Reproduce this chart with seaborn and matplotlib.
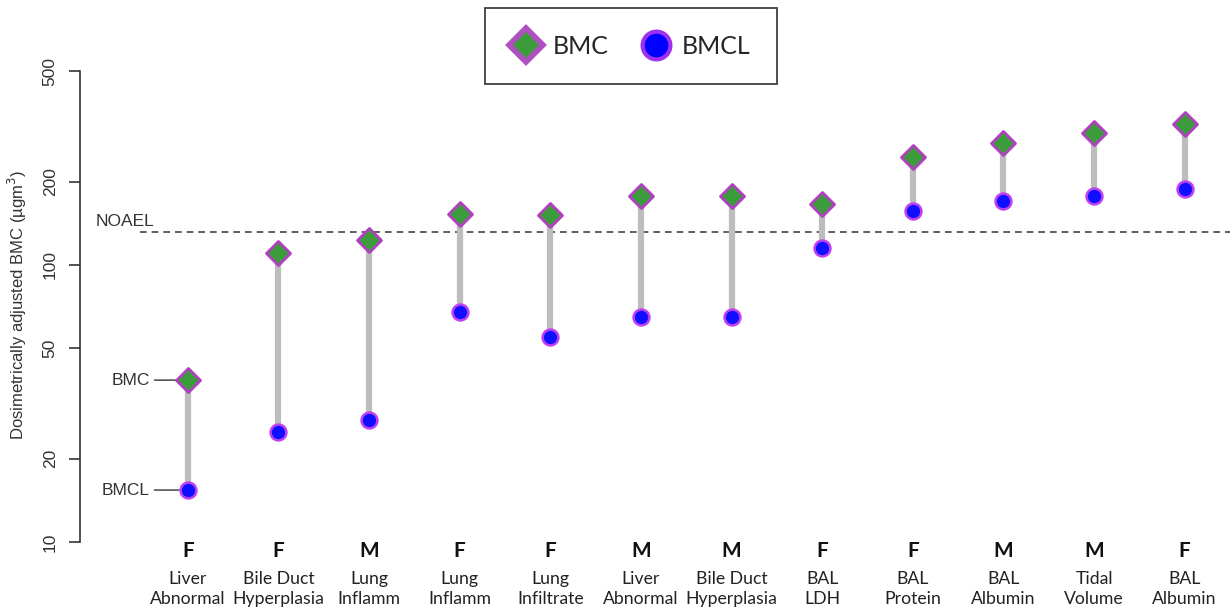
import numpy as np
import pandas as pd
import matplotlib
matplotlib.use("Agg")
import matplotlib.pyplot as plt
import seaborn as sns
from matplotlib.lines import Line2D
import matplotlib.transforms as mtransforms

# ---- data ----
sexes = ["F", "F", "M", "F", "F", "M", "M", "F", "F", "M", "M", "F"]
endpoints = ["Liver\nAbnormal", "Bile Duct\nHyperplasia", "Lung\nInflamm", "Lung\nInflamm",
             "Lung\nInfiltrate", "Liver\nAbnormal", "Bile Duct\nHyperplasia", "BAL\nLDH",
             "BAL\nProtein", "BAL\nAlbumin", "Tidal\nVolume", "BAL\nAlbumin"]
bmc = [38.4, 110, 123, 153, 151, 177, 177, 166, 245, 276, 300, 323]
bmcl = [15.4, 24.9, 27.6, 67.7, 55, 64.9, 65, 115, 157, 170, 177, 188]
noael = 132
y_ticks = [10, 20, 50, 100, 200, 500]

df = pd.DataFrame({"pos": np.arange(len(sexes)), "BMC": bmc, "BMCL": bmcl})

sns.set_style("white")
plt.rcParams["font.family"] = ["Liberation Sans", "DejaVu Sans"]

fig = plt.figure(figsize=(12.3, 6.16), dpi=100)
ax = fig.add_axes([80 / 1230, 1 - 560 / 616, 1 - 80 / 1230, 510 / 616])
ax.set_yscale("log")

# connecting bars
ax.vlines(df["pos"], df["BMCL"], df["BMC"], color="#bdbdbd", linewidth=4.5, zorder=1)

# NOAEL line
ax.axhline(noael, xmin=(140 - 80) / 1150, xmax=1, color="#444444", linestyle=(0, (4, 3)),
           linewidth=1.2, zorder=0)

sns.scatterplot(data=df, x="pos", y="BMCL", marker="o", s=130, color="#1010ff",
                edgecolor="#c040f0", linewidth=1.8, ax=ax, zorder=3, legend=False)
sns.scatterplot(data=df, x="pos", y="BMC", marker="D", s=150, color="#3c9c3c",
                edgecolor="#b040c0", linewidth=2.0, ax=ax, zorder=4, legend=False)

ax.set_xlim(-1.19, 11.5)
ax.set_ylim(8.61, 597)
ax.set_yticks(y_ticks)
ax.set_yticklabels([str(t) for t in y_ticks], rotation=90, va="center", fontsize=12.5,
                   color="#333333")
ax.yaxis.set_minor_locator(matplotlib.ticker.NullLocator())
ax.tick_params(axis="y", which="major", left=True, length=8, width=1.2, color="#333333", pad=8)
ax.set_xticks([])
ax.set_xlabel("")
ax.set_ylabel("Dosimetrically adjusted BMC (µgm$^{3}$)", fontsize=12, color="#333333", labelpad=10)

for s in ["top", "right", "bottom"]:
    ax.spines[s].set_visible(False)
ax.spines["left"].set_bounds(10, 500)
ax.spines["left"].set_color("#333333")
ax.spines["left"].set_linewidth(1.2)

# x category labels
trans = mtransforms.blended_transform_factory(ax.transData, fig.transFigure)
for i, (sx, ep) in enumerate(zip(sexes, endpoints)):
    ax.text(i, 1 - 551 / 616, sx, transform=trans, ha="center", va="center",
            fontsize=15, fontweight="bold", family=["Lato", "DejaVu Sans"], color="#111111")
    ax.text(i, 1 - 589 / 616, ep, transform=trans, ha="center", va="center",
            fontsize=12.7, family=["Lato", "DejaVu Sans"], color="#222222", linespacing=1.25)

# annotations
ax.annotate("BMC", xy=(-0.1, bmc[0]), xytext=(-0.42, bmc[0]), fontsize=12.5, color="#333333",
            ha="right", va="center",
            arrowprops=dict(arrowstyle="-", color="#333333", lw=1, shrinkA=1, shrinkB=0))
ax.annotate("BMCL", xy=(-0.1, bmcl[0]), xytext=(-0.42, bmcl[0]), fontsize=12.5, color="#333333",
            ha="right", va="center",
            arrowprops=dict(arrowstyle="-", color="#333333", lw=1, shrinkA=1, shrinkB=0))
ax.text(-1.02, noael * 1.02, "NOAEL", fontsize=12.5, color="#333333", ha="left", va="bottom")

# legend
handles = [
    Line2D([0], [0], marker="D", linestyle="none", markersize=17, markerfacecolor="#3c9c3c",
           markeredgecolor="#b050c0", markeredgewidth=4, label="BMC"),
    Line2D([0], [0], marker="o", linestyle="none", markersize=20, markerfacecolor="#0000ff",
           markeredgecolor="#a030f0", markeredgewidth=3, label="BMCL"),
]
leg = fig.legend(handles=handles, loc="center", bbox_to_anchor=(631 / 1230, 1 - 46 / 616),
                 ncol=2, frameon=True, fancybox=False, edgecolor="#111111",
                 prop={"family": "Lato", "size": 18}, handletextpad=0.45, columnspacing=1.3,
                 borderpad=1.05, handlelength=1.2)
leg.get_frame().set_linewidth(1.3)

fig.savefig("out.png", dpi=100, facecolor="white")
